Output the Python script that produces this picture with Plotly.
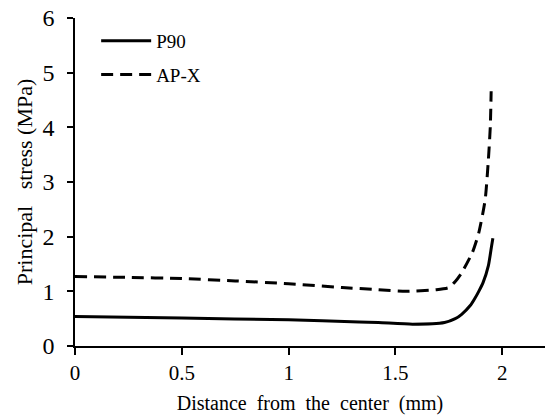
import plotly.graph_objects as go

# Data
apx_x = [0, 0.25, 0.5, 0.75, 1.0, 1.25, 1.42, 1.55, 1.69, 1.75, 1.78, 1.81, 1.86, 1.89, 1.92, 1.935, 1.944, 1.948]
apx_y = [1.27, 1.255, 1.235, 1.19, 1.14, 1.07, 1.03, 1.0, 1.03, 1.07, 1.18, 1.34, 1.71, 2.07, 2.68, 3.41, 4.02, 4.66]

p90_x = [0, 0.5, 1.0, 1.33, 1.42, 1.58, 1.73, 1.78, 1.81, 1.85, 1.87, 1.89, 1.91, 1.935, 1.95, 1.956]
p90_y = [0.54, 0.51, 0.48, 0.44, 0.43, 0.40, 0.43, 0.50, 0.58, 0.74, 0.86, 1.0, 1.16, 1.47, 1.83, 1.97]

x_ticks = [0, 0.5, 1, 1.5, 2]
x_tick_labels = ["0", "0.5", "1", "1.5", "2"]
y_ticks = [0, 1, 2, 3, 4, 5, 6]

FONT = "Liberation Serif"

fig = go.Figure()
fig.add_trace(go.Scatter(x=p90_x, y=p90_y, mode="lines", name="P90", legendgroup="a",
                         line=dict(color="black", width=3, shape="spline", smoothing=0.6)))
fig.add_trace(go.Scatter(x=apx_x, y=apx_y, mode="lines", name="AP-X", legendgroup="b",
                         line=dict(color="black", width=3, dash="12px,7px", shape="spline", smoothing=0.6)))

fig.update_layout(
    width=545, height=416,
    margin=dict(l=75, r=0, t=18, b=70),
    paper_bgcolor="white", plot_bgcolor="white",
    font=dict(family=FONT, color="black", size=20),
    showlegend=True,
    legend=dict(x=0.045, y=0.988, xanchor="left", yanchor="top", bgcolor="rgba(0,0,0,0)",
                font=dict(size=19, family=FONT), tracegroupgap=6, itemwidth=50),
    xaxis=dict(range=[0, 2.2], tickvals=x_ticks, ticktext=x_tick_labels, automargin=False,
               showline=True, linecolor="black", linewidth=1.5, showgrid=False, zeroline=False,
               ticks="outside", ticklen=7, tickwidth=1.5, tickcolor="black",
               ticklabeloverflow="allow",
               tickfont=dict(size=21, family=FONT),
               title=dict(text="Distance\u00a0 from\u00a0 the\u00a0 center\u00a0 (mm)", font=dict(size=20, family=FONT), standoff=12)),
    yaxis=dict(range=[0, 6], tickvals=y_ticks, automargin=False,
               showline=True, linecolor="black", linewidth=1.5, showgrid=False, zeroline=False,
               ticks="outside", ticklen=6, tickwidth=1.5, tickcolor="black",
               ticklabelstandoff=8, ticklabeloverflow="allow",
               tickfont=dict(size=24, family=FONT),
               title=dict(text="Principal\u00a0\u00a0 stress (MPa)", font=dict(size=22, family=FONT), standoff=4)),
)

# Remove the browser's default 8px body margin so the figure sits at the page origin
fig.write_html("out.html", config={"displayModeBar": False},
               post_script="document.body.style.margin='0';")
